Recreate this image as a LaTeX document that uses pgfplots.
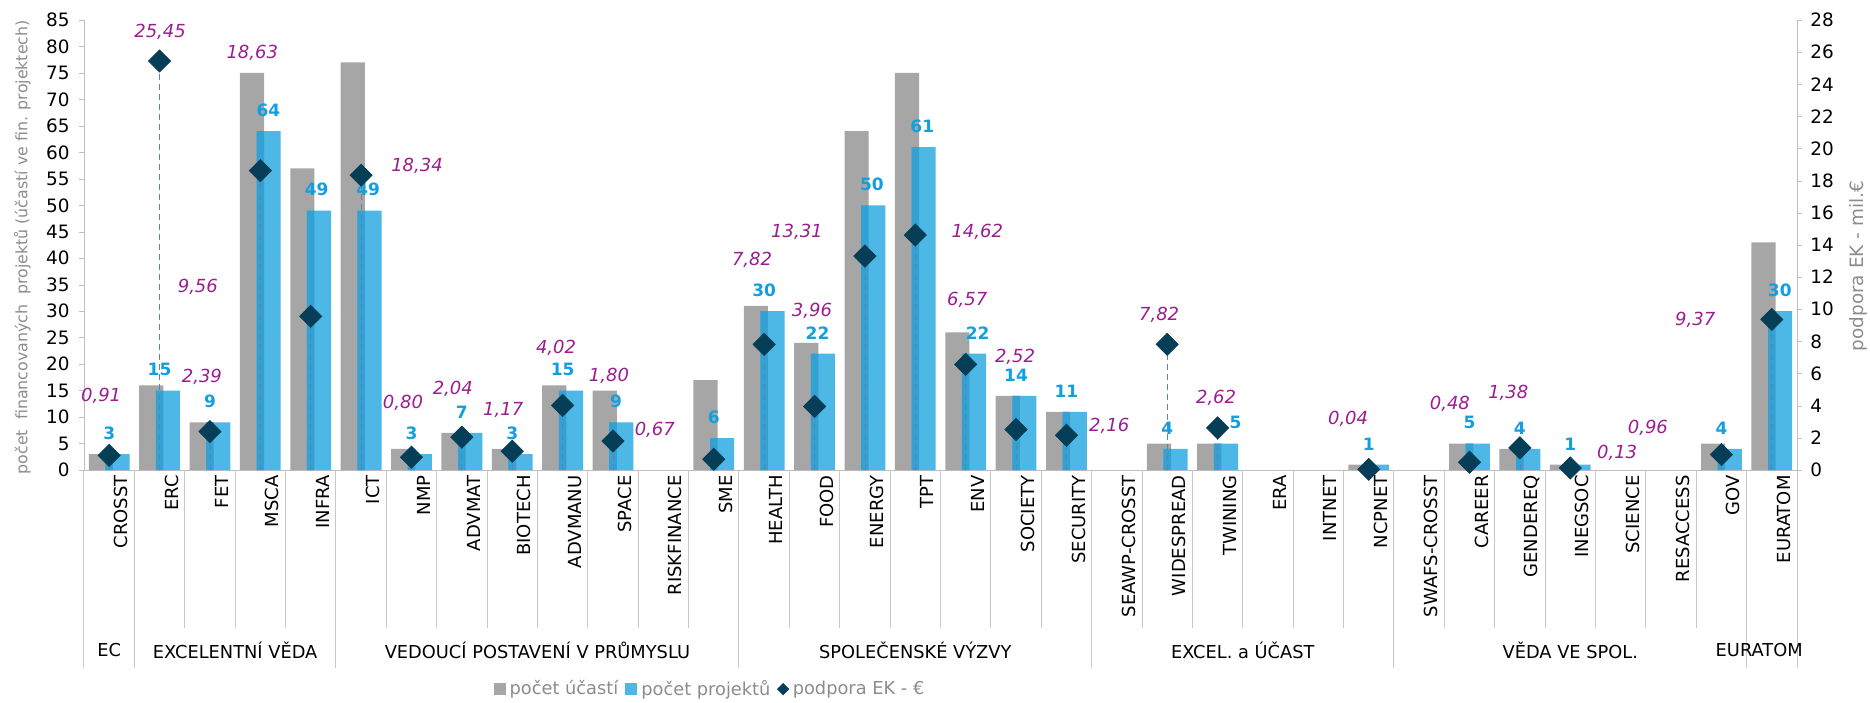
\documentclass[border=0pt]{standalone}
\usepackage{pgfplots}
\pgfplotsset{compat=1.18}
\usepackage{pgfplotstable}
\usepackage{fontspec}
\setmainfont{DejaVu Sans}

\definecolor{cgrey}{HTML}{A6A6A6}
\definecolor{cblue}{HTML}{4DB8E6}
\definecolor{cover}{HTML}{33A1D3}
\definecolor{cdia}{HTML}{053E56}
\definecolor{clab}{HTML}{129FDF}
\definecolor{cpur}{HTML}{9B1D8E}
\definecolor{caxis}{HTML}{BFBFBF}
\definecolor{csep}{HTML}{C8C8C8}
\definecolor{ctxt}{HTML}{8C8C8C}
\definecolor{cdrop}{HTML}{5E86A0}

\pgfplotsset{sqlegend/.style={legend image code/.code={\fill[##1,draw=none] (0pt,-3pt) rectangle (6pt,3pt);}}}

% participations (grey)
\pgfplotstableread{
x y
0 3
1 16
2 9
3 75
4 57
5 77
6 4
7 7
8 4
9 16
10 15
12 17
13 31
14 24
15 64
16 75
17 26
18 14
19 11
21 5
22 5
25 1
27 5
28 4
29 1
32 5
33 43
}\ucasti
% projects (blue); dx = horizontal offset of the value label (pt)
\pgfplotstableread{
x y dx
0 3 0
1 15 0
2 9 0
3 64 4
4 49 3
5 49 3.5
6 3 0
7 7 0
8 3 0
9 15 0
10 9 1.5
12 6 0
13 30 0
14 22 1.5
15 50 3.5
16 61 3.5
17 22 6
18 14 0
19 11 0
21 4 0
22 5 9
25 1 0
27 5 0
28 4 0
29 1 0
32 4 0
33 30 4
}\projekty
% EC support (mil. EUR)
\pgfplotstableread{
x y
0 0.91
1 25.45
2 2.39
3 18.63
4 9.56
5 18.34
6 0.80
7 2.04
8 1.17
9 4.02
10 1.80
12 0.67
13 7.82
14 3.96
15 13.31
16 14.62
17 6.57
18 2.52
19 2.16
21 7.82
22 2.62
25 0.04
27 0.48
28 1.38
29 0.13
32 0.96
33 9.37
}\podpora
% positions of the value labels of the support series
\pgfplotstableread{
x y label
-0.16 4.60 0,91
1.01 27.25 25,45
2.84 25.95 18,63
6.11 18.92 18,34
1.76 11.39 9,56
1.84 5.79 2,39
5.83 4.17 0,80
6.82 5.04 2,04
7.82 3.73 1,17
8.87 7.59 4,02
9.92 5.85 1,80
10.83 2.49 0,67
12.76 13.07 7,82
13.65 14.81 13,31
13.95 9.89 3,96
17.23 14.81 14,62
17.03 10.58 6,57
17.98 7.03 2,52
19.85 2.74 2,16
20.84 9.64 7,82
21.97 4.48 2,62
24.59 3.17 0,04
26.61 4.11 0,48
27.77 4.79 1,38
29.93 1.06 0,13
30.54 2.61 0,96
31.48 9.33 9,37
}\podporalab

\begin{document}
\begin{tikzpicture}
\begin{axis}[
  at={(0,0)}, anchor=south west,
  width=856.5pt, height=225pt, scale only axis,
  xmin=-0.5, xmax=33.5, ymin=0, ymax=85,
  ytick={0,5,...,85},
  axis y line*=left, axis x line*=bottom,
  axis line style={caxis},
  tick align=outside, major tick length=2.5pt,
  ytick style={caxis},
  xtick={0,...,33},
  xticklabels={CROSST,ERC,FET,MSCA,INFRA,ICT,NMP,ADVMAT,BIOTECH,ADVMANU,SPACE,RISKFINANCE,SME,HEALTH,FOOD,ENERGY,TPT,ENV,SOCIETY,SECURITY,SEAWP-CROSST,WIDESPREAD,TWINING,ERA,INTNET,NCPNET,SWAFS-CROSST,CAREER,GENDEREQ,INEGSOC,SCIENCE,RESACCESS,GOV,EURATOM},
  xtick style={draw=none},
  xticklabel style={rotate=90, anchor=east, font=\fontsize{9}{10}\selectfont, text=black, inner sep=0pt, yshift=-6pt},
  yticklabel style={font=\fontsize{9.2}{11}\selectfont, text=black, inner sep=1pt, xshift=-3.5pt},
  /pgf/number format/assume math mode=true,
  ylabel={počet\ \ financovaných\ \ projektů (účastí ve fin. projektech)},
  ylabel style={at={(axis description cs:-0.036,0.495)}, anchor=center, font=\fontsize{7.9}{9}\selectfont, text=ctxt},
  clip=false,
  legend style={draw=none, fill=none, at={(0.366,-0.487)}, anchor=center,
    font=\fontsize{8.9}{10}\selectfont, text=ctxt,
    /tikz/every even column/.append style={column sep=1.5pt},
    /tikz/every odd column/.append style={column sep=0pt}},
  legend columns=-1,
]
\addplot[ybar, bar width=0.48, bar shift=-0.165, fill=cgrey, draw=none, sqlegend] table[x=x,y=y] {\ucasti};
\addlegendentry{počet účastí}
\addplot[ybar, bar width=0.48, bar shift=0.165, fill=cblue, draw=none, sqlegend,
  visualization depends on={\thisrow{dx} \as \labdx},
  nodes near coords, nodes near coords style={anchor=south, font=\bfseries\fontsize{8.5}{10}\selectfont, text=clab, xshift=\labdx pt, yshift=6.5pt, inner sep=0.5pt}] table[x=x,y=y] {\projekty};
\addlegendentry{počet projektů}
\addplot[ybar, bar width=0.15, bar shift=0, fill=cover, draw=none, forget plot] table[x=x,y=y] {\projekty};
\addlegendimage{only marks, mark=square*, mark size=2pt, mark options={rotate=45, fill=cdia, draw=cdia}}
\addlegendentry{podpora EK - €}
% category separators
\pgfplotsinvokeforeach{-0.5,0.5,...,33.5}{\draw[csep, line width=0.5pt] (axis cs:#1,0) -- ++(0pt,-79pt);}
% group separators
\pgfplotsinvokeforeach{-0.5,0.5,4.5,12.5,19.5,25.5,32.5,33.5}{\draw[csep, line width=0.5pt] (axis cs:#1,0) -- ++(0pt,-99pt);}
% group labels
\begin{scope}[every node/.style={font=\fontsize{8.9}{10}\selectfont, text=black}]
\node at ([yshift=-90pt]axis cs:0,0) {EC};
\node at ([yshift=-90pt]axis cs:2.5,0) {EXCELENTNÍ VĚDA};
\node at ([yshift=-90pt]axis cs:8.5,0) {VEDOUCÍ POSTAVENÍ V PRŮMYSLU};
\node at ([yshift=-90pt]axis cs:16,0) {SPOLEČENSKÉ VÝZVY};
\node at ([yshift=-90pt]axis cs:22.5,0) {EXCEL. a ÚČAST};
\node at ([yshift=-90pt]axis cs:29,0) {VĚDA VE SPOL.};
\node at ([yshift=-90pt]axis cs:32.75,0) {EURATOM};
\end{scope}
\end{axis}

\begin{axis}[
  at={(0,0)}, anchor=south west,
  width=856.5pt, height=225pt, scale only axis,
  xmin=-0.5, xmax=33.5, ymin=0, ymax=28,
  ytick={0,2,...,28},
  axis y line*=right, axis x line=none,
  axis line style={caxis},
  tick align=outside, major tick length=2.5pt,
  ytick style={caxis},
  yticklabel style={font=\fontsize{9.2}{11}\selectfont, text=black, inner sep=1pt, xshift=3pt},
  /pgf/number format/assume math mode=true,
  ylabel={podpora EK - mil.€},
  ylabel style={at={(axis description cs:1.036,0.453)}, anchor=center, rotate=0, font=\fontsize{9.2}{10}\selectfont, text=ctxt},
  clip=false,
]
\addplot[ycomb, densely dashed, cdrop, line width=0.4pt, mark=none] table[x=x,y=y] {\podpora};
\addplot[only marks, mark=square*, mark size=3.9pt, mark options={rotate=45, fill=cdia, draw=cdia}] table[x=x,y=y] {\podpora};
\addplot[only marks, mark=none, nodes near coords, point meta=explicit symbolic,
  nodes near coords style={anchor=center, font=\itshape\fontsize{9}{10}\selectfont, text=cpur}] table[x=x,y=y,meta=label] {\podporalab};
\end{axis}

\pgfresetboundingbox
\path[use as bounding box] (-42pt,-116pt) rectangle (893pt,235pt);
\end{tikzpicture}
\end{document}
